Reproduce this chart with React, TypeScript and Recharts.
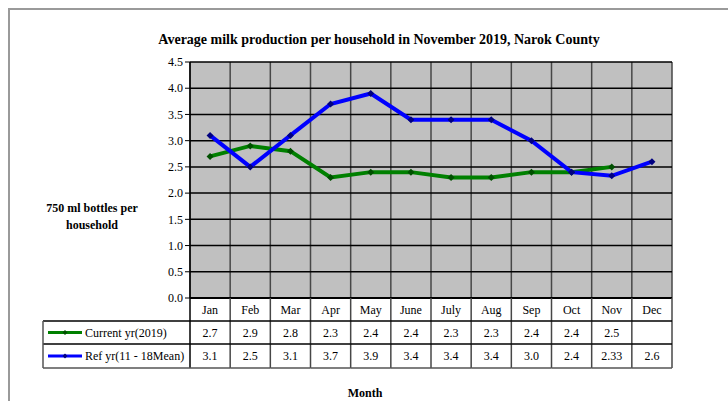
import React from "react";
import { LineChart, Line, XAxis, YAxis, CartesianGrid } from "recharts";

// Months along the category axis
const months = ["Jan", "Feb", "Mar", "Apr", "May", "June", "July", "Aug", "Sep", "Oct", "Nov", "Dec"];

// 750 ml bottles per household
const currentYr: (number | null)[] = [2.7, 2.9, 2.8, 2.3, 2.4, 2.4, 2.3, 2.3, 2.4, 2.4, 2.5, null];
const refYr: (number | null)[] = [3.1, 2.5, 3.1, 3.7, 3.9, 3.4, 3.4, 3.4, 3.0, 2.4, 2.33, 2.6];

const yTicks = [0, 0.5, 1, 1.5, 2, 2.5, 3, 3.5, 4, 4.5];

const seriesNames = ["Current yr(2019)", "Ref yr(11 - 18Mean)"];

const data = months.map((m, i) => ({ month: m, current: currentYr[i], ref: refYr[i] }));

const W = 728;
const H = 401;
const MARGIN = { top: 62, right: 56, bottom: 33, left: 160 };
const Y_AXIS_W = 30;
const X_AXIS_H = 70;
const PLOT_W = W - MARGIN.left - Y_AXIS_W - MARGIN.right;
const CELL = PLOT_W / months.length;
const ROWS = [23, 23, 24];
const LEGEND_W = 147;
const FONT = "'Liberation Serif', 'DejaVu Serif', serif";

const GREEN = "#008000";
const BLUE = "#0000ff";
const GRID_V = "#474747";

const fmt = (v: number | null) => {
  if (v == null) return "";
  return Math.abs(Math.round(v * 10) - v * 10) < 1e-9 ? v.toFixed(1) : v.toFixed(2);
};

const diamond = (cx: number, cy: number, s: number) =>
  `M${cx},${cy - s}L${cx + s},${cy}L${cx},${cy + s}L${cx - s},${cy}Z`;

const makeDot = (fill: string) => (props: any) => {
  const { cx, cy, index } = props;
  if (cx == null || cy == null || props.value == null) return <g key={`d-${index}`} />;
  return <path key={`d-${index}`} d={diamond(cx, cy, 3.5)} fill={fill} />;
};

// draws one column of the data table under each month, plus the legend column
const TableTick = (props: any) => {
  const { x, y, payload, index } = props;
  const left = x - CELL / 2;
  const right = x + CELL / 2;
  const r1 = y + ROWS[0];
  const r2 = r1 + ROWS[1];
  const r3 = r2 + ROWS[2];
  const i = payload.index ?? index;
  const textProps = { fontFamily: FONT, fontSize: 12, fill: "#000", textAnchor: "middle" as const };
  return (
    <g>
      <line x1={right} y1={y} x2={right} y2={r3} stroke={GRID_V} strokeWidth={1.5} />
      {i === 0 && <line x1={left} y1={y} x2={left} y2={r3} stroke="#000" strokeWidth={1.5} />}
      <line x1={left} y1={r1} x2={right} y2={r1} stroke="#000" strokeWidth={1.5} />
      <line x1={left} y1={r2} x2={right} y2={r2} stroke="#000" strokeWidth={1.5} />
      <line x1={left} y1={r3} x2={right} y2={r3} stroke="#555" strokeWidth={1.5} />
      <text {...textProps} x={x} y={y + 16}>{payload.value}</text>
      <text {...textProps} x={x} y={r1 + 16}>{fmt(currentYr[i])}</text>
      <text {...textProps} x={x} y={r2 + 16}>{fmt(refYr[i])}</text>
      {i === 0 && (
        <g>
          <line x1={left - LEGEND_W} y1={r1} x2={left} y2={r1} stroke="#000" strokeWidth={1.5} />
          <line x1={left - LEGEND_W} y1={r2} x2={left} y2={r2} stroke="#000" strokeWidth={1.5} />
          <line x1={left - LEGEND_W} y1={r3} x2={left} y2={r3} stroke="#555" strokeWidth={1.5} />
          <line x1={left - LEGEND_W} y1={r1} x2={left - LEGEND_W} y2={r3} stroke="#555" strokeWidth={1.5} />
          {[GREEN, BLUE].map((c, k) => {
            const cy = (k === 0 ? r1 : r2) + ROWS[k + 1] / 2;
            const x0 = left - LEGEND_W + 5;
            return (
              <g key={c}>
                <line x1={x0} y1={cy} x2={x0 + 34} y2={cy} stroke={c} strokeWidth={3} />
                <path d={diamond(x0 + 17, cy, 2.5)} fill={k === 0 ? "#005000" : "#000080"} />
                <text fontFamily={FONT} fontSize={12} fill="#000" x={x0 + 37} y={cy + 4}>
                  {seriesNames[k]}
                </text>
              </g>
            );
          })}
        </g>
      )}
    </g>
  );
};

export default function App() {
  return (
    <div
      style={{
        position: "absolute",
        left: 0,
        top: 0,
        width: W,
        height: H,
        overflow: "hidden",
        background: "#fff",
        fontFamily: FONT,
      }}
    >
      {/* frame, only top and left edges are inside the picture */}
      <div
        style={{
          position: "absolute",
          left: 8,
          top: 8,
          width: 760,
          height: 440,
          borderTop: "2px solid #9a9a9a",
          borderLeft: "2px solid #9a9a9a",
        }}
      />
      <div
        style={{
          position: "absolute",
          left: 0,
          top: 31,
          width: 758,
          textAlign: "center",
          fontSize: 14,
          fontWeight: "bold",
          lineHeight: "18px",
        }}
      >
        Average milk production per household in November 2019, Narok County
      </div>
      <div
        style={{
          position: "absolute",
          left: 30,
          top: 200,
          width: 124,
          textAlign: "center",
          fontSize: 12,
          fontWeight: "bold",
          lineHeight: "17px",
        }}
      >
        750 ml bottles per
        <br />
        household
      </div>
      <div
        style={{
          position: "absolute",
          left: 300,
          top: 385,
          width: 130,
          textAlign: "center",
          fontSize: 12,
          fontWeight: "bold",
          lineHeight: "16px",
        }}
      >
        Month
      </div>
      <div style={{ position: "absolute", left: 0, top: 0 }}>
        <LineChart width={W} height={H} data={data} margin={MARGIN}>
          <CartesianGrid
            horizontal={false}
            vertical
            stroke={GRID_V}
            strokeWidth={1.5}
            fill="#c0c0c0"
            verticalCoordinatesGenerator={({ offset }: any) =>
              months.map((_, i) => offset.left + i * (offset.width / months.length)).concat(offset.left + offset.width)
            }
          />
          <CartesianGrid vertical={false} horizontal stroke="#000" strokeWidth={1.5} />
          <XAxis
            dataKey="month"
            scale="band"
            interval={0}
            height={X_AXIS_H}
            tickLine={false}
            tickSize={0}
            tickMargin={0}
            axisLine={{ stroke: "#000", strokeWidth: 2 }}
            tick={<TableTick />}
          />
          <YAxis
            width={Y_AXIS_W}
            domain={[0, 4.5]}
            ticks={yTicks}
            interval={0}
            tickSize={5}
            tickLine={{ stroke: "#000" }}
            axisLine={{ stroke: "#000", strokeWidth: 1.5 }}
            tickFormatter={(v: number) => v.toFixed(1)}
            tick={{ fontFamily: FONT, fontSize: 12, fill: "#000" }}
          />
          <Line
            dataKey="current"
            stroke={GREEN}
            strokeWidth={4}
            dot={makeDot("#005000")}
            activeDot={false}
            isAnimationActive={false}
          />
          <Line
            dataKey="ref"
            stroke={BLUE}
            strokeWidth={4}
            dot={makeDot("#000080")}
            activeDot={false}
            isAnimationActive={false}
          />
        </LineChart>
      </div>
    </div>
  );
}
